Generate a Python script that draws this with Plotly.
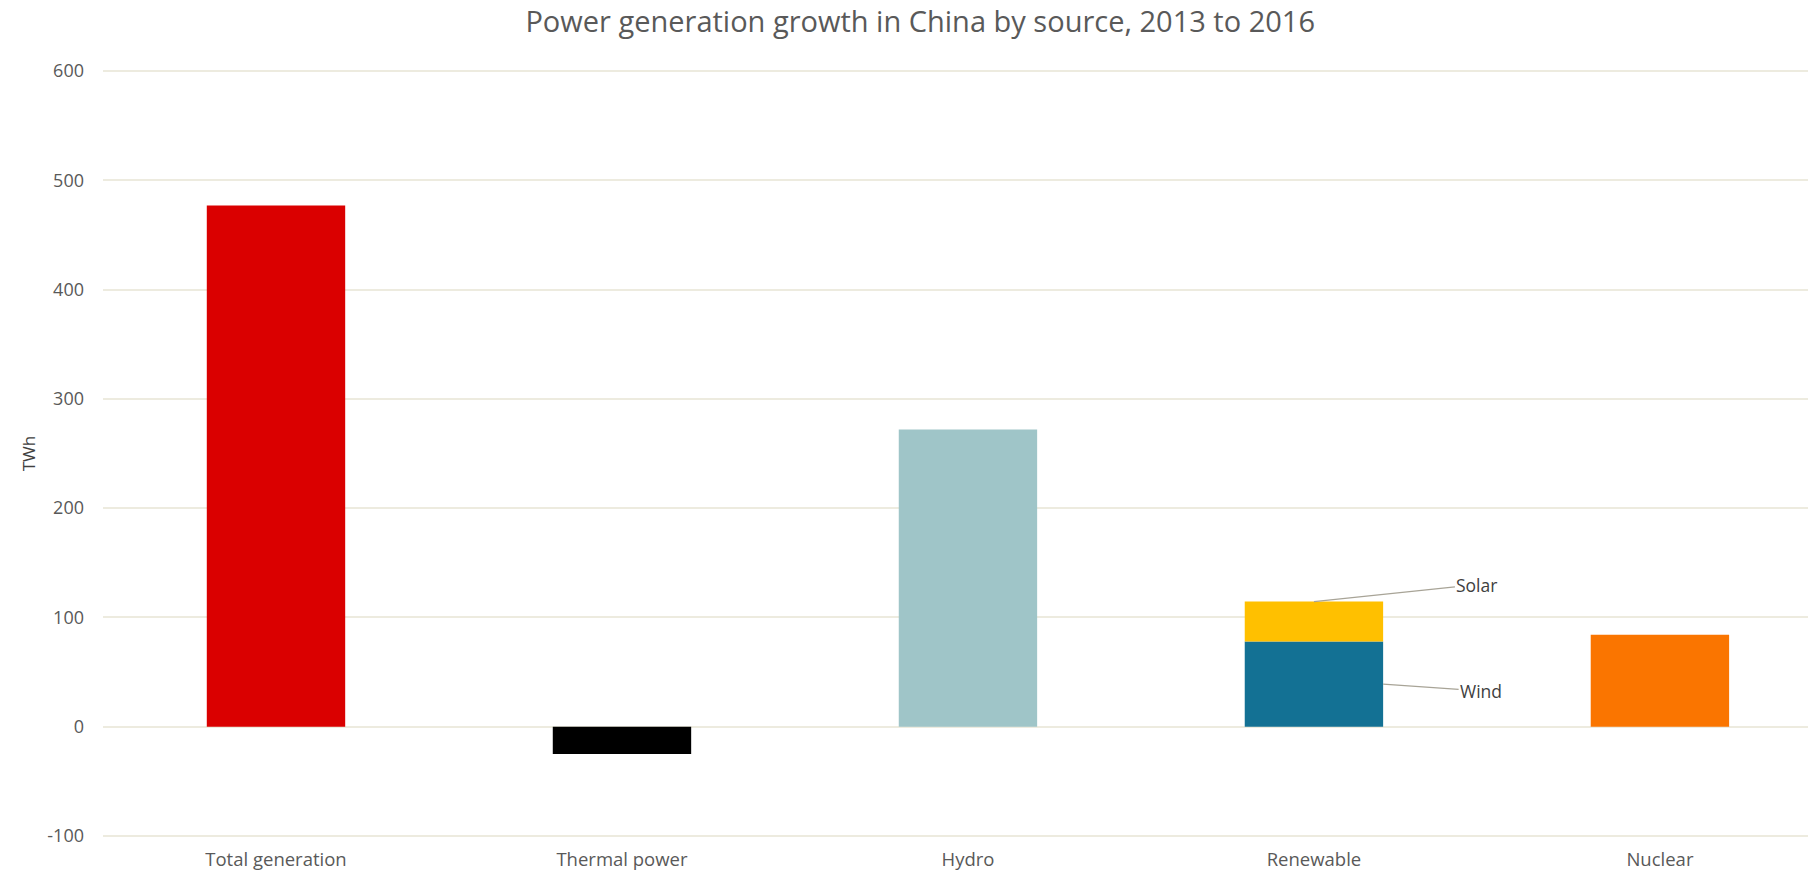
import plotly.graph_objects as go

categories = ["Total generation", "Thermal power", "Hydro", "Renewable", "Nuclear"]
single_values = [477, -25, 272, None, 84]
single_colors = ["#DA0000", "#000000", "#9FC5C8", "rgba(0,0,0,0)", "#FA7500"]
wind = [None, None, None, 78, None]
solar = [None, None, None, 36.5, None]
y_ticks = [-100, 0, 100, 200, 300, 400, 500, 600]
y_tick_labels = ["-100", "0", "100", "200", "300", "400", "500", "600"]

FONT = "Open Sans, Lato, DejaVu Sans, sans-serif"

fig = go.Figure()
fig.add_trace(go.Bar(x=categories, y=single_values, marker=dict(color=single_colors, line=dict(width=0)),
                     width=0.4, name="Total", hoverinfo="x+y"))
fig.add_trace(go.Bar(x=categories, y=wind, marker=dict(color="#137194", line=dict(width=0)),
                     width=0.4, name="Wind"))
fig.add_trace(go.Bar(x=categories, y=solar, marker=dict(color="#FFC000", line=dict(width=0)),
                     width=0.4, name="Solar"))

ren_i = categories.index("Renewable")
fig.add_annotation(x=ren_i, y=wind[ren_i] + solar[ren_i], xref="x", yref="y",
                   text="Solar", showarrow=True, arrowhead=0, arrowwidth=1.2,
                   arrowcolor="#A8A497", ax=163, ay=-17, standoff=0,
                   font=dict(family=FONT, size=17.5, color="#404040"))
fig.add_annotation(x=ren_i + 0.2, y=wind[ren_i] / 2, xref="x", yref="y",
                   text="Wind", showarrow=True, arrowhead=0, arrowwidth=1.2,
                   arrowcolor="#A8A497", ax=98, ay=7, standoff=0,
                   font=dict(family=FONT, size=17.5, color="#404040"))

fig.update_layout(
    barmode="relative",
    width=1815, height=878,
    paper_bgcolor="white", plot_bgcolor="white",
    showlegend=False,
    margin=dict(l=103, r=7, t=70, b=37),
    title=dict(text="Power generation growth in China by source, 2013 to 2016",
               x=0.507, xanchor="center", y=0.975, yanchor="middle",
               font=dict(family=FONT, size=29, color="#595959")),
    font=dict(family=FONT, color="#595959"),
    xaxis=dict(type="category", range=[-0.5, 4.428], showgrid=False, showline=False,
               ticks="", tickfont=dict(size=18.5, color="#595959"), ticklabelstandoff=9),
    yaxis=dict(range=[-101, 601], tickvals=y_ticks, ticktext=y_tick_labels,
               showgrid=True, gridcolor="#EDEBDF",
               gridwidth=2, zeroline=False, showline=False, ticks="",
               tickfont=dict(size=18, color="#595959"), ticklabelstandoff=18,
               title=dict(text="TWh", font=dict(size=17, color="#404040"), standoff=7)),
)

fig.write_html("out.html")
